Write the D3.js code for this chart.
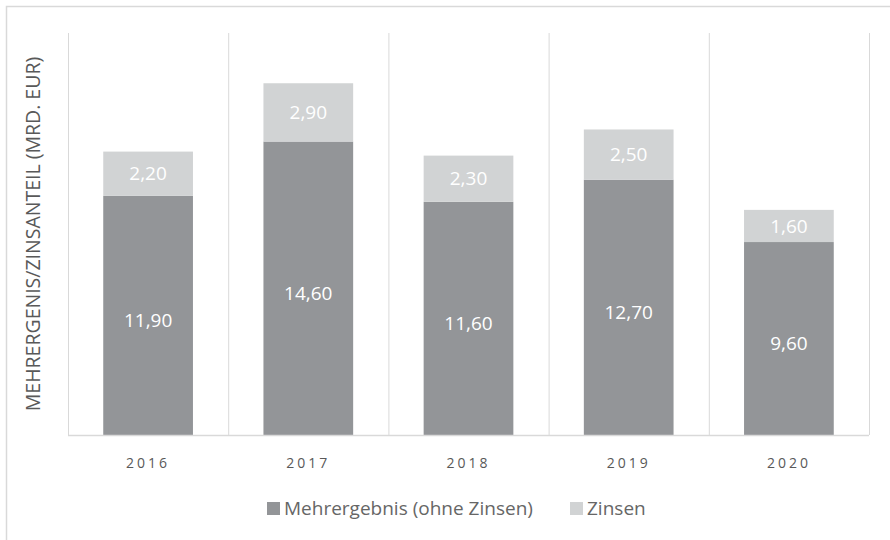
<!DOCTYPE html>
<html>
<head>
<meta charset="utf-8">
<script src="https://cdn.jsdelivr.net/npm/d3@7"></script>
<style>
  body { margin: 0; background: #fff; }
  svg text { font-family: "Open Sans", "Noto Sans", sans-serif; }
</style>
</head>
<body>
<svg id="chart" width="890" height="540"></svg>
<script>
// chart data
const years = ["2016", "2017", "2018", "2019", "2020"];
const mehrergebnis = [11.9, 14.6, 11.6, 12.7, 9.6];
const zinsen = [2.2, 2.9, 2.3, 2.5, 1.6];
const seriesNames = ["Mehrergebnis (ohne Zinsen)", "Zinsen"];
const seriesColors = ["#939598", "#d1d3d4"];

const svg = d3.select("#chart");
const margin = { top: 33, right: 21, bottom: 105, left: 68 };
const W = 890, H = 540;

// outer frame (top + left visible)
svg.append("path")
    .attr("d", `M6.5,540 V6.5 H890`)
    .attr("fill", "none").attr("stroke", "#d9d9d9").attr("stroke-width", 1.5);

const x = d3.scaleBand().domain(years)
    .range([margin.left, W - margin.right]).paddingInner(0.44).paddingOuter(0.22);
const y = d3.scaleLinear().domain([0, 20]).range([H - margin.bottom, margin.top]);

// vertical category separators
const step = x.step();
const seps = d3.range(years.length + 1).map(i => margin.left + i * step);
svg.append("g").selectAll("line").data(seps).enter().append("line")
    .attr("x1", d => d + 0.5).attr("x2", d => d + 0.5)
    .attr("y1", y(20)).attr("y2", y(0))
    .attr("stroke", "#d9d9d9").attr("stroke-width", 1);

const fmt = v => v.toFixed(2).replace(".", ",");
const data = years.map((yr, i) => ({ year: yr, values: [mehrergebnis[i], zinsen[i]] }));
const stack = d3.stack().keys([0, 1]).value((d, k) => d.values[k]);
const layers = stack(data);

const g = svg.append("g");
layers.forEach((layer, k) => {
    g.selectAll(null).data(layer).enter().append("rect")
        .attr("x", d => x(d.data.year))
        .attr("width", x.bandwidth())
        .attr("y", d => y(d[1]))
        .attr("height", d => y(d[0]) - y(d[1]))
        .attr("fill", seriesColors[k]);
    g.selectAll(null).data(layer).enter().append("text")
        .attr("x", d => x(d.data.year) + x.bandwidth() / 2)
        .attr("y", d => (y(d[0]) + y(d[1])) / 2 + (k === 0 ? 5 : 0))
        .attr("dy", "0.35em")
        .attr("text-anchor", "middle")
        .attr("fill", "#fff")
        .style("font-size", "19px")
        .text(d => fmt(d[1] - d[0]));
});

// baseline
svg.append("line")
    .attr("x1", margin.left).attr("x2", W - margin.right)
    .attr("y1", y(0) + 0.5).attr("y2", y(0) + 0.5)
    .attr("stroke", "#d9d9d9").attr("stroke-width", 1.5);

// x axis labels
svg.append("g").selectAll("text").data(years).enter().append("text")
    .attr("x", d => x(d) + x.bandwidth() / 2)
    .attr("y", 463).attr("dy", "0.35em")
    .attr("text-anchor", "middle")
    .attr("fill", "#595959")
    .style("font-size", "14px").style("letter-spacing", "3px")
    .text(d => d);

// y axis title
svg.append("text")
    .attr("transform", `translate(33, ${(y(0) + y(20)) / 2}) rotate(-90)`)
    .attr("text-anchor", "middle").attr("dy", "0.35em")
    .attr("fill", "#595959")
    .style("font-size", "19.5px")
    .text("MEHRERGENIS/ZINSANTEIL (MRD. EUR)");

// legend
const legend = svg.append("g").attr("transform", "translate(267, 508)");
const items = [{ name: seriesNames[0], color: seriesColors[0], x: 0 },
               { name: seriesNames[1], color: seriesColors[1], x: 303 }];
items.forEach(it => {
    legend.append("rect").attr("x", it.x).attr("y", -6).attr("width", 13).attr("height", 13)
        .attr("fill", it.color);
    legend.append("text").attr("x", it.x + 17).attr("y", 0).attr("dy", "0.35em")
        .attr("fill", "#666666").style("font-size", "19px").text(it.name);
});
</script>
</body>
</html>
